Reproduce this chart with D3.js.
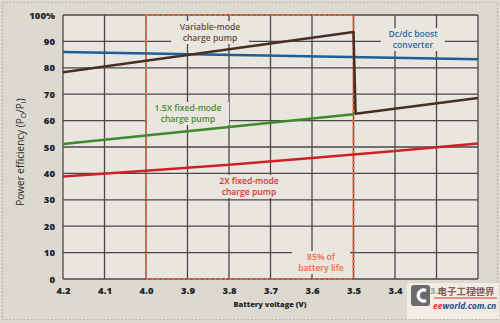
<!DOCTYPE html>
<html><head><meta charset="utf-8">
<script src="https://cdn.jsdelivr.net/npm/d3@7"></script>
<style>
html,body{margin:0;padding:0;background:#dcd9d0;}
svg{display:block;font-family:"Open Sans","Noto Sans",sans-serif;}
</style></head><body>
<svg id="c" width="500" height="323"></svg>
<script>
const xTicks = [4.2, 4.1, 4.0, 3.9, 3.8, 3.7, 3.6, 3.5, 3.4, 3.3, 3.2];
const xTickLabels = ["4.2","4.1","4.0","3.9","3.8","3.7","3.6","3.5","3.4","3.3","3.2"];
const yTicks = [0,10,20,30,40,50,60,70,80,90,100];
const yTickLabels = ["0","10","20","30","40","50","60","70","80","90","100%"];

const dcdcV = [4.2, 3.2];
const dcdcE = [86, 83.2];
const varV = [4.2, 3.5, 3.495, 3.2];
const varE = [78.3, 93.6, 62.6, 68.6];
const fix15V = [4.2, 3.5];
const fix15E = [51.1, 62.4];
const fix2V = [4.2, 4.0, 3.8, 3.6, 3.4, 3.2];
const fix2E = [38.8, 41.0, 43.3, 45.8, 48.5, 51.3];
const batteryRegion = [4.0, 3.5];

const svg = d3.select("#c");
const W = 500, H = 323;
const m = {l:63, r:478, t:15, b:279};

svg.append("rect").attr("width",W).attr("height",H).attr("fill","#dcd9d0");
svg.append("rect").attr("x",2.5).attr("y",2.5).attr("width",W-5).attr("height",H-6)
  .attr("fill","none").attr("stroke","#b5b1a8").attr("stroke-width",1.2).attr("stroke-dasharray","1.5,2");

const x = d3.scaleLinear().domain([4.2,3.2]).range([m.l,m.r]);
const y = d3.scaleLinear().domain([0,100]).range([m.b,m.t]);

const plotBg = "#e9e6e0";
svg.append("rect").attr("x",m.l).attr("y",m.t).attr("width",m.r-m.l).attr("height",m.b-m.t).attr("fill",plotBg);

const gridC = "#4a4947";
svg.append("g").selectAll("line").data(xTicks).join("line")
  .attr("x1",d=>x(d)).attr("x2",d=>x(d)).attr("y1",m.t).attr("y2",m.b)
  .attr("stroke",gridC).attr("stroke-width",1.3);
svg.append("g").selectAll("line").data(yTicks).join("line")
  .attr("x1",m.l).attr("x2",m.r).attr("y1",d=>y(d)).attr("y2",d=>y(d))
  .attr("stroke",gridC).attr("stroke-width",1.3);

// watermark (drawn under the tick labels)
const wm = svg.append("g");
wm.append("rect").attr("x",407).attr("y",283).attr("width",92).attr("height",36).attr("fill","#f2f0e8").attr("opacity",0.85);
wm.append("rect").attr("x",411).attr("y",285).attr("width",19).attr("height",21).attr("rx",3).attr("fill","#6a6a6a");
wm.append("path").attr("d","M426,290.5 A5.5,5.5 0 1 0 426,300.5").attr("fill","none").attr("stroke","#fff").attr("stroke-width",3.2);
wm.append("text").attr("x",466).attr("y",295).attr("text-anchor","middle").attr("font-size",9.5)
  .attr("font-family","'Noto Sans CJK SC',sans-serif").attr("font-weight",700).attr("fill","#7a3a3a").attr("opacity",0.8).text("电子工程世界");
wm.append("line").attr("x1",434).attr("x2",497).attr("y1",298).attr("y2",298).attr("stroke","#d33").attr("stroke-width",1);
const wt = wm.append("text").attr("x",433).attr("y",309).attr("font-size",8.5).attr("font-style","italic").attr("font-weight",700).attr("fill","#1f4f8f");
wt.append("tspan").attr("fill","#d33").text("ee");
wt.append("tspan").text("world.com.cn");

const yAxis = d3.axisLeft(y).tickValues(yTicks).tickSize(0).tickPadding(8)
  .tickFormat((d,i)=>yTickLabels[i]);
const gy = svg.append("g").attr("transform",`translate(${m.l},0)`).call(yAxis);
gy.select(".domain").remove();
gy.selectAll("text").attr("font-size",9.5).attr("font-weight",800).attr("fill","#262626")
  .attr("font-family","'Open Sans',sans-serif");

const xAxis = d3.axisBottom(x).tickValues(xTicks).tickSize(0).tickPadding(8)
  .tickFormat((d,i)=>xTickLabels[i]);
const gx = svg.append("g").attr("transform",`translate(0,${m.b})`).call(xAxis);
gx.select(".domain").remove();
gx.selectAll("text").attr("font-size",9.5).attr("font-weight",800).attr("fill","#262626")
  .attr("font-family","'Open Sans',sans-serif");
gx.selectAll(".tick").filter(d=>d<3.35).selectAll("text").attr("fill","#555").attr("opacity",0.45);

svg.append("text").attr("x",270).attr("y",307).attr("text-anchor","middle")
  .attr("font-size",7.5).attr("font-weight",800).attr("fill","#262626").text("Battery voltage (V)");

const yt = svg.append("text").attr("transform","translate(24,152) rotate(-90)").attr("text-anchor","middle")
  .attr("font-size",10).attr("fill","#2a2a2a");
yt.append("tspan").text("Power efficiency (P");
yt.append("tspan").attr("font-size",7).attr("dy",2).text("O");
yt.append("tspan").attr("dy",-2).text("/P");
yt.append("tspan").attr("font-size",7).attr("dy",2).text("I");
yt.append("tspan").attr("dy",-2).text(")");

function label(cx, cy, lines, color, bw){
  svg.append("rect").attr("x",cx-bw/2).attr("y",cy-9).attr("width",bw).attr("height",23).attr("fill",plotBg);
  lines.forEach((t,i)=>{
    svg.append("text").attr("x",cx).attr("y",cy+i*11).attr("text-anchor","middle")
      .attr("font-size",8.6).attr("font-weight",600).attr("fill",color).text(t);
  });
}
label(210, 30, ["Variable-mode","charge pump"], "#6b4b3c", 78);
label(413, 37, ["Dc/dc boost","converter"], "#2b6aa6", 64);
label(188, 111, ["1.5X fixed-mode","charge pump"], "#4a8a32", 82);
label(249, 184, ["2X fixed-mode","charge pump"], "#d7322f", 74);
label(321, 260, ["85% of","battery life"], "#ee6a3c", 58);

svg.append("rect").attr("x",x(batteryRegion[0])).attr("y",y(100))
  .attr("width",x(batteryRegion[1])-x(batteryRegion[0])).attr("height",y(0)-y(100))
  .attr("fill","none").attr("stroke","#f0673a").attr("stroke-width",2).attr("stroke-dasharray","3,2.2");

const line = d3.line().x(d=>x(d[0])).y(d=>y(d[1]));
function series(V,E,color){
  svg.append("path").datum(V.map((v,i)=>[v,E[i]])).attr("d",line)
    .attr("fill","none").attr("stroke",color).attr("stroke-width",2.5).attr("stroke-linejoin","round");
}
series(fix2V, fix2E, "#cf2028");
series(fix15V, fix15E, "#3e8a2c");
series(dcdcV, dcdcE, "#1f5f96");
series(varV, varE, "#4a2e22");
</script>
</body></html>
